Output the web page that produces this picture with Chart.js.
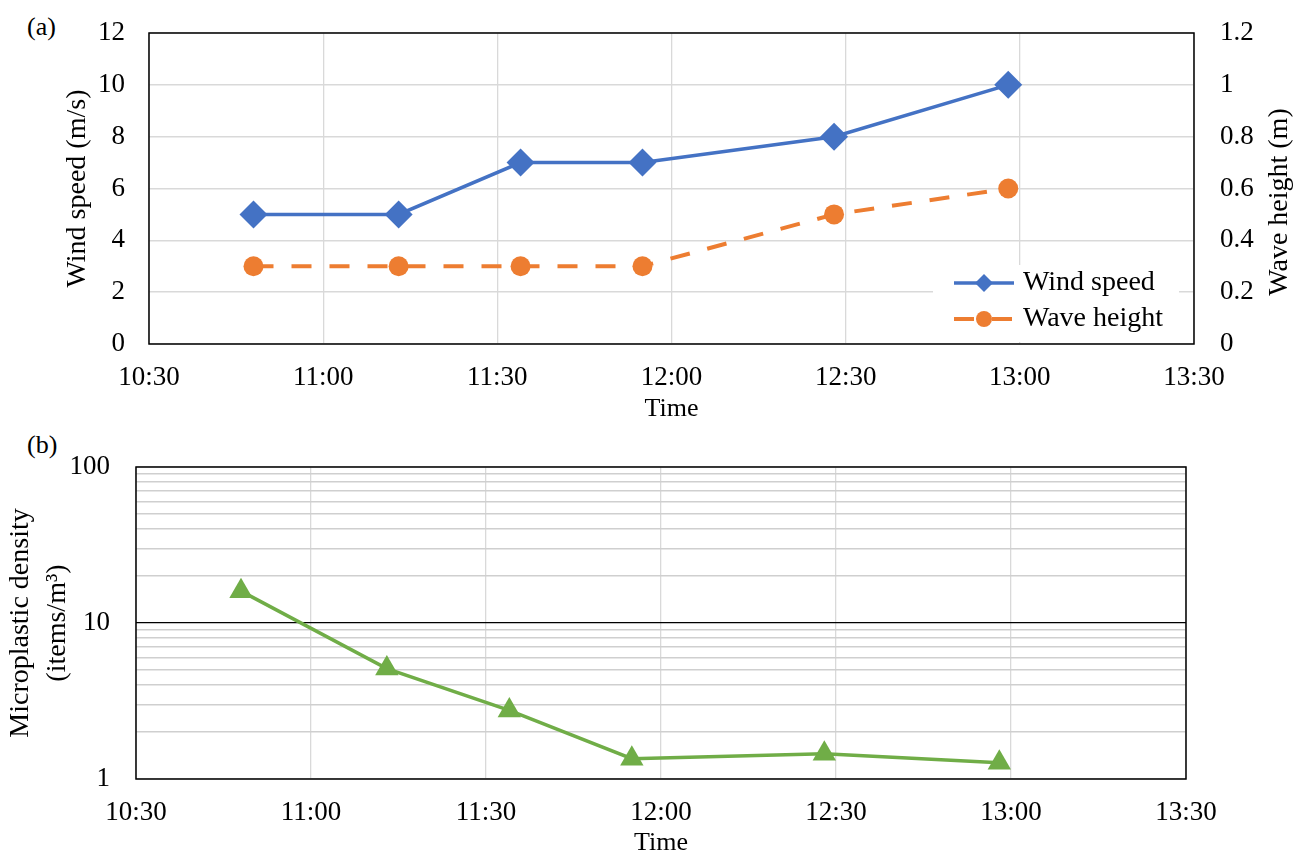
<!DOCTYPE html>
<html>
<head>
<meta charset="utf-8">
<script src="https://cdn.jsdelivr.net/npm/chart.js@4.4.1/dist/chart.umd.min.js"></script>
<style>
  body { margin: 0; background: #fff; width: 1308px; height: 854px; overflow: hidden; position: relative; }
  .panel { position: absolute; left: 0; }
  .tag { position: absolute; left: 27px; font: 26px 'Liberation Serif', 'Times New Roman', serif; line-height: 30px; color: #000; }
</style>
</head>
<body>
<div class="tag" style="top:12px">(a)</div>
<div class="tag" style="top:430px">(b)</div>
<div class="panel" style="top:0"><canvas id="chartA" width="1308" height="430"></canvas></div>
<div class="panel" style="top:430px"><canvas id="chartB" width="1308" height="424"></canvas></div>
<script>
// sampling times and readings
const times = ["10:48", "11:13", "11:34", "11:55", "12:28", "12:58"];
const windSpeed = [5, 5, 7, 7, 8, 10];
const waveHeight = [0.3, 0.3, 0.3, 0.3, 0.5, 0.6];
const density = [16, 5.1, 2.75, 1.35, 1.45, 1.27];

// axis ticks
const timeTicks = ["10:30", "11:00", "11:30", "12:00", "12:30", "13:00", "13:30"];
const windTicks = [0, 2, 4, 6, 8, 10, 12];
const waveTicks = [0, 0.2, 0.4, 0.6, 0.8, 1, 1.2];
const densityLabels = [1, 10, 100];

const FONT = "'Liberation Serif', 'Times New Roman', serif";
const BLUE = '#4472C4';
const ORANGE = '#ED7D31';
const GREEN = '#70AD47';
const GRID = '#d9d9d9';

function toMin(t) {
  const [h, m] = t.split(':').map(Number);
  return h * 60 + m;
}
function fmtTime(v) {
  return Math.floor(v / 60) + ':' + String(Math.round(v % 60)).padStart(2, '0');
}

// log grid: 1..9, 10..90, 100
const densityGrid = [];
for (let d = 1; d < 100; d *= 10) {
  for (let k = 1; k < 10; k++) densityGrid.push(k * d);
}
densityGrid.push(100);

const framePlugin = {
  id: 'frame',
  beforeDatasetsDraw(chart) {
    const { ctx, chartArea: a } = chart;
    ctx.save();
    ctx.strokeStyle = '#000';
    ctx.lineWidth = 1.5;
    ctx.strokeRect(a.left, a.top, a.right - a.left, a.bottom - a.top);
    ctx.restore();
  }
};

const rightTitle = {
  id: 'rightTitle',
  afterDraw(chart) {
    const ctx = chart.ctx;
    ctx.save();
    ctx.translate(1280, 202);
    ctx.rotate(-Math.PI / 2);
    ctx.font = '28px ' + FONT;
    ctx.fillStyle = '#000';
    ctx.textAlign = 'center';
    ctx.textBaseline = 'middle';
    ctx.fillText('Wave height (m)', 0, 0);
    ctx.restore();
  }
};

// legend drawn inside the plot, lower right
const boxLegend = {
  id: 'boxLegend',
  afterDraw(chart) {
    const ctx = chart.ctx;
    ctx.save();
    ctx.fillStyle = '#fff';
    ctx.fillRect(933, 265, 246, 77);
    const rows = [283, 319];
    chart.data.datasets.forEach((ds, i) => {
      const y = rows[i];
      ctx.strokeStyle = ds.borderColor;
      ctx.lineWidth = ds.borderWidth;
      ctx.setLineDash(ds.borderDash || []);
      ctx.beginPath();
      ctx.moveTo(954, y);
      ctx.lineTo(1014, y);
      ctx.stroke();
      ctx.setLineDash([]);
      ctx.fillStyle = ds.borderColor;
      ctx.beginPath();
      if (ds.pointStyle === 'rectRot') {
        ctx.moveTo(984 - 9, y);
        ctx.lineTo(984, y - 9);
        ctx.lineTo(984 + 9, y);
        ctx.lineTo(984, y + 9);
        ctx.closePath();
      } else {
        ctx.arc(984, y, 8, 0, Math.PI * 2);
      }
      ctx.fill();
      ctx.fillStyle = '#000';
      ctx.font = '28px ' + FONT;
      ctx.textAlign = 'left';
      ctx.textBaseline = 'middle';
      ctx.fillText(ds.label, 1023, y);
    });
    ctx.restore();
  }
};

// keep plot area where layout padding puts it
function noPad(s) {
  s.paddingTop = 0;
  s.paddingBottom = 0;
}

function timeAxis(height, titlePad, titleLH) {
  return {
    type: 'linear',
    min: toMin(timeTicks[0]),
    max: toMin(timeTicks[timeTicks.length - 1]),
    afterBuildTicks: s => { s.ticks = timeTicks.map(t => ({ value: toMin(t) })); },
    afterFit: s => { s.height = height; },
    ticks: { callback: v => fmtTime(v), font: { size: 27, family: FONT }, color: '#000', padding: 18, maxRotation: 0, autoSkip: false },
    grid: { color: GRID, lineWidth: 1.3, drawTicks: false },
    border: { display: false },
    title: { display: true, text: 'Time', color: '#000', font: { size: 26, family: FONT, lineHeight: titleLH }, padding: { top: 0, bottom: titlePad } }
  };
}

new Chart(document.getElementById('chartA'), {
  type: 'line',
  data: {
    datasets: [
      {
        label: 'Wind speed',
        data: times.map((t, i) => ({ x: toMin(t), y: windSpeed[i] })),
        yAxisID: 'y',
        borderColor: BLUE,
        backgroundColor: BLUE,
        borderWidth: 3.5,
        pointStyle: 'rectRot',
        pointRadius: 14,
        pointBorderWidth: 0,
        pointBackgroundColor: BLUE
      },
      {
        label: 'Wave height',
        data: times.map((t, i) => ({ x: toMin(t), y: waveHeight[i] })),
        yAxisID: 'y1',
        borderColor: ORANGE,
        backgroundColor: ORANGE,
        borderWidth: 4,
        borderDash: [20, 18],
        pointStyle: 'circle',
        pointRadius: 10,
        pointBorderWidth: 0,
        pointBackgroundColor: ORANGE
      }
    ]
  },
  options: {
    responsive: false,
    animation: false,
    devicePixelRatio: 1,
    layout: { padding: { top: 33, left: 0, right: 0, bottom: 0 } },
    plugins: { legend: { display: false }, tooltip: { enabled: false } },
    scales: {
      x: timeAxis(86, 5, 1.2),
      y: {
        position: 'left',
        min: 0,
        max: 12,
        afterBuildTicks: s => { s.ticks = windTicks.map(v => ({ value: v })); },
        afterFit: s => { s.width = 149; noPad(s); },
        ticks: { font: { size: 27, family: FONT }, color: '#000', padding: 24 },
        grid: { color: GRID, lineWidth: 1.6, drawTicks: false },
        border: { display: false },
        title: { display: true, text: 'Wind speed (m/s)', color: '#000', font: { size: 28, family: FONT, lineHeight: 1.2 }, padding: { top: 61, bottom: 0 } }
      },
      y1: {
        position: 'right',
        min: 0,
        max: 1.2,
        afterBuildTicks: s => { s.ticks = waveTicks.map(v => ({ value: v })); },
        afterFit: s => { s.width = 114; noPad(s); },
        ticks: { font: { size: 27, family: FONT }, color: '#000', padding: 26, callback: v => String(parseFloat(v.toFixed(1))) },
        grid: { drawOnChartArea: false, drawTicks: false },
        border: { display: false }
      }
    }
  },
  plugins: [framePlugin, boxLegend, rightTitle]
});

new Chart(document.getElementById('chartB'), {
  type: 'line',
  data: {
    datasets: [
      {
        label: 'Microplastic density',
        data: times.map((t, i) => ({ x: toMin(t), y: density[i] })),
        borderColor: GREEN,
        backgroundColor: GREEN,
        borderWidth: 3.5,
        pointStyle: 'triangle',
        pointRadius: 13.5,
        pointBorderWidth: 0,
        pointBackgroundColor: GREEN
      }
    ]
  },
  options: {
    responsive: false,
    animation: false,
    devicePixelRatio: 1,
    layout: { padding: { top: 37, left: 0, right: 122, bottom: 0 } },
    plugins: { legend: { display: false }, tooltip: { enabled: false } },
    scales: {
      x: timeAxis(75, 0, 0.85),
      y: {
        type: 'logarithmic',
        position: 'left',
        min: 1,
        max: 100,
        afterBuildTicks: s => { s.ticks = densityGrid.map(v => ({ value: v })); },
        afterFit: s => { s.width = 136; noPad(s); },
        ticks: {
          font: { size: 27, family: FONT },
          color: '#000',
          padding: 26,
          autoSkip: false,
          callback: v => densityLabels.includes(v) ? String(v) : ''
        },
        grid: {
          color: c => c.tick && c.tick.value === 10 ? '#000' : '#cfcfcf',
          lineWidth: c => c.tick && c.tick.value === 10 ? 1.3 : 1.6,
          drawTicks: false
        },
        border: { display: false },
        title: {
          display: true,
          text: ['Microplastic density', '(items/m³)'],
          color: '#000',
          font: { size: 28, family: FONT, lineHeight: 1.32 },
          padding: { top: 2, bottom: 0 }
        }
      }
    }
  },
  plugins: [framePlugin]
});
</script>
</body>
</html>
